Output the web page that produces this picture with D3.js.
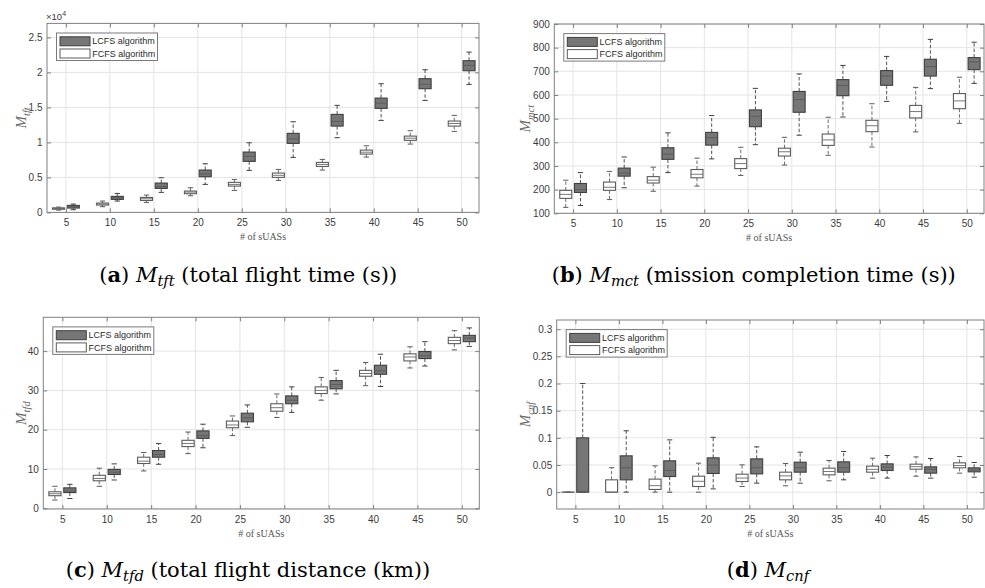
<!DOCTYPE html>
<html><head><meta charset="utf-8">
<script src="https://cdn.jsdelivr.net/npm/d3@7"></script>
<style>body{margin:0;background:#fff}</style>
</head><body><svg id="c" width="985" height="588" xmlns="http://www.w3.org/2000/svg"></svg>
<script>
const categories = [5,10,15,20,25,30,35,40,45,50];
const seriesNames = ["LCFS algorithm","FCFS algorithm"];
const xLabel = "# of sUASs";

// each entry: [min, q1, median, q3, max]
const tftFCFS = [[330,450,550,650,760],[810,1050,1200,1330,1620],[1430,1710,1950,2140,2480],[2380,2670,2900,3050,3520],[3140,3760,4000,4290,4710],[4570,5000,5300,5620,6140],[6050,6570,6850,7140,7570],[7900,8330,8600,8900,9520],[9760,10290,10600,10900,11670],[11570,12330,12700,13050,13860]];
const tftLCFS = [[380,620,800,1000,1190],[1620,1860,2100,2290,2710],[2860,3430,3700,4190,4950],[4000,5100,5500,6050,6950],[6000,7290,8000,8620,9950],[7860,9860,10500,11290,12950],[10670,12330,13000,14000,15290],[13140,14860,15600,16330,18380],[16000,17670,18300,19100,20380],[18290,20240,21000,21670,22900]];

const mctFCFS = [[125,163,180,197,240],[158,197,210,232,277],[193,228,240,255,295],[215,250,265,285,333],[260,289,310,331,379],[304,342,360,375,421],[345,387,410,435,506],[380,445,470,493,563],[444,503,530,556,632],[480,542,575,606,675]];
const mctLCFS = [[133,188,200,226,272],[208,257,270,291,338],[272,328,350,377,440],[330,388,420,442,513],[390,466,510,537,628],[430,527,580,615,689],[507,597,640,665,725],[573,641,680,703,763],[627,680,720,751,835],[649,707,740,758,823]];

const tfdFCFS = [[2.1,3.2,3.7,4.2,5.6],[5.6,7.0,7.6,8.4,10.2],[9.5,11.4,12.0,13.0,14.2],[13.9,15.7,16.5,17.3,19.4],[18.5,20.5,21.2,22.2,23.5],[23.1,24.7,25.6,26.6,29.1],[27.5,29.2,30.0,30.9,33.3],[31.2,33.6,34.3,35.1,37.1],[35.7,37.5,38.5,39.3,41.1],[40.3,41.9,42.7,43.5,45.2]];
const tfdLCFS = [[2.5,4.0,4.4,5.2,6.1],[7.2,8.6,9.2,9.9,11.3],[11.2,13.0,13.7,14.7,16.5],[15.4,17.8,18.5,19.7,21.4],[20.6,22.0,23.0,24.2,26.3],[24.4,26.6,27.5,28.6,30.9],[29.1,30.4,31.5,32.5,35.1],[31.0,34.1,35.0,36.4,39.2],[36.2,38.1,38.8,39.9,42.4],[41.2,42.4,43.3,44.0,45.9]];

const cnfFCFS = [[0,0,0,0,0],[0,0,0,0.0227,0.045],[0,0.005,0.012,0.024,0.0485],[0,0.0104,0.02,0.0294,0.0534],[0.0104,0.0196,0.026,0.0331,0.0503],[0.0117,0.0227,0.03,0.0368,0.0528],[0.0209,0.0319,0.038,0.0442,0.0583],[0.0258,0.0368,0.042,0.0479,0.0626],[0.0294,0.0423,0.047,0.0515,0.065],[0.035,0.0448,0.049,0.054,0.0656]];
const cnfLCFS = [[0,0,0,0.1,0.2],[0,0.0227,0.045,0.0669,0.113],[0,0.0288,0.04,0.0577,0.0963],[0.006,0.0344,0.05,0.0632,0.101],[0.0166,0.0337,0.045,0.0613,0.0834],[0.0166,0.0368,0.045,0.0552,0.0736],[0.0227,0.0368,0.045,0.0558,0.0748],[0.0258,0.0399,0.046,0.0521,0.0675],[0.0258,0.035,0.042,0.0466,0.062],[0.0276,0.0374,0.041,0.0448,0.0546]];

const tftTicks = [0,5000,10000,15000,20000,25000];
const tftTickLabels = ["0","0.5","1","1.5","2","2.5"];
const mctTicks = [100,200,300,400,500,600,700,800,900];
const mctTickLabels = ["100","200","300","400","500","600","700","800","900"];
const tfdTicks = [0,10,20,30,40];
const tfdTickLabels = ["0","10","20","30","40"];
const cnfTicks = [0,0.05,0.1,0.15,0.2,0.25,0.3];
const cnfTickLabels = ["0","0.05","0.1","0.15","0.2","0.25","0.3"];

const captions = [
  {letter:"a", sub:"tft", rest:" (total flight time (s))"},
  {letter:"b", sub:"mct", rest:" (mission completion time (s))"},
  {letter:"c", sub:"tfd", rest:" (total flight distance (km))"},
  {letter:"d", sub:"cnf", rest:""}
];

const xDomain = [2.85, 51.97];
const boxOffset = 0.84, boxWidth = 1.37, capWidth = 0.6;

const panels = [
  {left:47, right:479, top:23.4, bottom:212.4, ydom:[0,27000], ticks:tftTicks, tickLabels:tftTickLabels, fcfs:tftFCFS, lcfs:tftLCFS, sub:"tft", labX:26, exp:true, cap:0, capX:99.3, capAnchor:"start", capY:282},
  {left:554.3, right:984, top:24, bottom:213.3, ydom:[100,900], ticks:mctTicks, tickLabels:mctTickLabels, fcfs:mctFCFS, lcfs:mctLCFS, sub:"mct", labX:530, cap:1, capX:551.7, capAnchor:"start", capY:282},
  {left:43.3, right:479.3, top:317.3, bottom:509, ydom:[-0.18,48.6], ticks:tfdTicks, tickLabels:tfdTickLabels, fcfs:tfdFCFS, lcfs:tfdLCFS, sub:"tfd", labX:26, cap:2, capX:248, capAnchor:"middle", capY:577},
  {left:556.7, right:984, top:320, bottom:509, ydom:[-0.031,0.317], ticks:cnfTicks, tickLabels:cnfTickLabels, fcfs:cnfFCFS, lcfs:cnfLCFS, sub:"cnf", labX:530, cap:3, capX:768, capAnchor:"middle", capY:577}
];

const svg = d3.select("#c");
const frameColor = "#808080";
const tickFont = "'Liberation Sans', Arial, sans-serif";
const serif = "'Liberation Serif', 'Times New Roman', serif";

function drawPanel(p){
  const x = d3.scaleLinear().domain(xDomain).range([p.left, p.right]);
  const y = d3.scaleLinear().domain(p.ydom).range([p.bottom, p.top]);
  const g = svg.append("g");

  // grid
  g.append("g").selectAll("line").data(p.ticks).join("line")
    .attr("x1", p.left).attr("x2", p.right)
    .attr("y1", d => y(d)).attr("y2", d => y(d))
    .attr("stroke", "#e4e4e4").attr("stroke-width", 1);
  g.append("g").selectAll("line").data(categories).join("line")
    .attr("x1", d => x(d)).attr("x2", d => x(d))
    .attr("y1", p.top).attr("y2", p.bottom)
    .attr("stroke", "#e4e4e4").attr("stroke-width", 1);

  const series = [
    {data:p.fcfs, off:-boxOffset, fill:"#ffffff", stroke:"#5c5c5c", med:"#6a6a6a"},
    {data:p.lcfs, off:boxOffset, fill:"#767676", stroke:"#3f3f3f", med:"#5a5a5a"}
  ];
  series.forEach(s => {
    const bg = g.append("g");
    const items = bg.selectAll("g").data(s.data.map((v,i)=>({c:categories[i], v}))).join("g");
    // whiskers
    items.append("line")
      .attr("x1", d => x(d.c + s.off)).attr("x2", d => x(d.c + s.off))
      .attr("y1", d => y(d.v[3])).attr("y2", d => y(d.v[4]))
      .attr("stroke", s.stroke).attr("stroke-width", 0.9).attr("stroke-dasharray", "3.5,2");
    items.append("line")
      .attr("x1", d => x(d.c + s.off)).attr("x2", d => x(d.c + s.off))
      .attr("y1", d => y(d.v[1])).attr("y2", d => y(d.v[0]))
      .attr("stroke", s.stroke).attr("stroke-width", 0.9).attr("stroke-dasharray", "3.5,2");
    // caps
    [0,4].forEach(k => {
      items.append("line")
        .attr("x1", d => x(d.c + s.off - capWidth/2)).attr("x2", d => x(d.c + s.off + capWidth/2))
        .attr("y1", d => y(d.v[k])).attr("y2", d => y(d.v[k]))
        .attr("stroke", s.stroke).attr("stroke-width", 1);
    });
    // box
    items.append("rect")
      .attr("x", d => x(d.c + s.off - boxWidth/2))
      .attr("width", d => x(d.c + s.off + boxWidth/2) - x(d.c + s.off - boxWidth/2))
      .attr("y", d => y(d.v[3]))
      .attr("height", d => Math.max(0.01, y(d.v[1]) - y(d.v[3])))
      .attr("fill", s.fill).attr("stroke", s.stroke).attr("stroke-width", 1.1);
    // median
    items.append("line")
      .attr("x1", d => x(d.c + s.off - boxWidth/2)).attr("x2", d => x(d.c + s.off + boxWidth/2))
      .attr("y1", d => y(d.v[2])).attr("y2", d => y(d.v[2]))
      .attr("stroke", s.med).attr("stroke-width", 0.9);
  });

  // frame
  g.append("rect").attr("x", p.left).attr("y", p.top)
    .attr("width", p.right - p.left).attr("height", p.bottom - p.top)
    .attr("fill", "none").attr("stroke", frameColor).attr("stroke-width", 1);

  // axes
  const ax = [
    g.append("g").attr("transform", `translate(${p.left},0)`)
      .call(d3.axisLeft(y).tickValues(p.ticks).tickSize(-4).tickPadding(4.5).tickFormat((d,i)=>p.tickLabels[i])),
    g.append("g").attr("transform", `translate(${p.right},0)`)
      .call(d3.axisRight(y).tickValues(p.ticks).tickSize(-4).tickFormat("")),
    g.append("g").attr("transform", `translate(0,${p.bottom})`)
      .call(d3.axisBottom(x).tickValues(categories).tickSize(-4).tickPadding(6.5).tickFormat(d3.format("d"))),
    g.append("g").attr("transform", `translate(0,${p.top})`)
      .call(d3.axisTop(x).tickValues(categories).tickSize(-4).tickFormat(""))
  ];
  ax.forEach(a => {
    a.select(".domain").remove();
    a.selectAll(".tick line").attr("stroke", frameColor);
    a.selectAll(".tick text").attr("fill", "#3c3c3c").style("font-family", tickFont).style("font-size", "10px");
  });

  // legend
  const lx = p.left + 9.5, ly = p.top + 9.6;
  const leg = g.append("g").attr("transform", `translate(${lx},${ly})`);
  leg.append("rect").attr("width", 101).attr("height", 27.5)
    .attr("fill", "#fff").attr("stroke", "#7a7a7a").attr("stroke-width", 1);
  const legItems = [
    {name:seriesNames[0], fill:"#767676", stroke:"#3f3f3f"},
    {name:seriesNames[1], fill:"#ffffff", stroke:"#5c5c5c"}
  ];
  legItems.forEach((it, i) => {
    leg.append("rect").attr("x", 3.5).attr("y", 3.8 + i*12.2).attr("width", 30).attr("height", 9)
      .attr("fill", it.fill).attr("stroke", it.stroke).attr("stroke-width", 1);
    leg.append("text").attr("x", 35.8).attr("y", 8.3 + i*12.2).attr("dy", "0.35em")
      .attr("fill", "#2a2a2a").style("font-family", tickFont).style("font-size", "9px")
      .text(it.name);
  });

  // y label
  const cy = (p.top + p.bottom)/2;
  const yl = g.append("text").attr("transform", `translate(${p.labX},${cy}) rotate(-90)`)
    .attr("text-anchor", "middle").attr("fill", "#6a6a6a")
    .style("font-family", serif).style("font-style", "italic").style("font-size", "15px");
  yl.append("tspan").text("M");
  yl.append("tspan").attr("dy", 3.5).style("font-size", "10.5px").text(p.sub);

  // x label
  g.append("text").attr("x", (p.left + p.right)/2).attr("y", p.bottom + 27.5)
    .attr("text-anchor", "middle").attr("fill", "#555")
    .style("font-family", serif).style("font-size", "10px").text(xLabel);

  // exponent
  if (p.exp) {
    const e = g.append("text").attr("x", p.left - 1).attr("y", p.top - 3.5)
      .attr("fill", "#3c3c3c").style("font-family", tickFont).style("font-size", "9.5px");
    e.append("tspan").text("\u00d710");
    e.append("tspan").attr("dy", -4).style("font-size", "7px").text("4");
  }

  // caption
  const c = captions[p.cap];
  const ct = svg.append("text").attr("x", p.capX).attr("y", p.capY).attr("text-anchor", p.capAnchor)
    .attr("fill", "#000").style("font-family", "'DejaVu Serif', serif").style("font-size", captionSize + "px");
  ct.append("tspan").text("(");
  ct.append("tspan").style("font-weight", "bold").text(c.letter);
  ct.append("tspan").text(") ");
  ct.append("tspan").style("font-style", "italic").text("M");
  ct.append("tspan").attr("dy", 4).style("font-style", "italic").style("font-size", (captionSize*0.7) + "px").text(c.sub);
  if (c.rest) ct.append("tspan").attr("dy", -4).text(c.rest);
}

// caption size fit: caption (a) spans ~298px in the reference
let captionSize = 20;
(function(){
  const t = svg.append("text").style("font-family", "'DejaVu Serif', serif").style("font-size", "20px");
  const c = captions[0];
  t.append("tspan").text("(");
  t.append("tspan").style("font-weight","bold").text(c.letter);
  t.append("tspan").text(") ");
  t.append("tspan").style("font-style","italic").text("M");
  t.append("tspan").style("font-style","italic").style("font-size","14px").text(c.sub);
  t.append("tspan").text(c.rest);
  const w = t.node().getComputedTextLength();
  t.remove();
  if (w > 0) captionSize = Math.max(16, Math.min(22, 20*298/w));
})();

panels.forEach(drawPanel);
</script>
</body></html>
